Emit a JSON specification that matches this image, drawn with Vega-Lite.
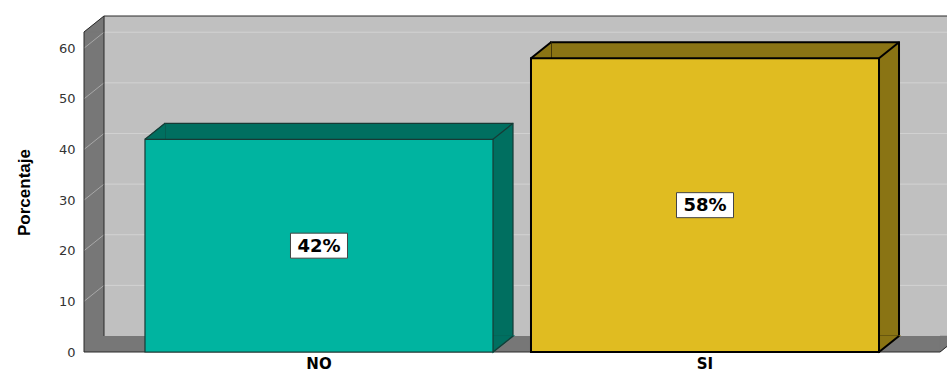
{
  "$schema": "https://vega.github.io/schema/vega-lite/v6.json",
  "width": 856,
  "height": 320,
  "autosize": {"type": "none"},
  "padding": {"left": 84, "top": 32, "right": 7, "bottom": 22},
  "background": "white",
  "config": {
    "view": {"stroke": null},
    "axisY": {"domain": false, "ticks": false, "grid": false, "labelFont": "DejaVu Sans", "labelFontSize": 13, "labelColor": "#333333", "labelPadding": 9, "titleFont": "Liberation Sans", "titleFontWeight": "bold", "titleFontSize": 17, "titleColor": "#000000"},
    "axisX": {"domain": false, "ticks": false, "grid": false, "labelFont": "DejaVu Sans", "labelFontWeight": "bold", "labelFontSize": 15, "labelColor": "#000000", "labelPadding": 4, "labelAngle": 0}
  },
  "datasets": {
    "bars": [
      {"cat": "NO", "v": 42, "label": "42%"},
      {"cat": "SI", "v": 58, "label": "58%"}
    ],
    "ticks": [{"t": 10}, {"t": 20}, {"t": 30}, {"t": 40}, {"t": 50}, {"t": 60}],
    "frame": [{"k": 1}]
  },
  "layer": [
    {
      "data": {"name": "bars"},
      "mark": {"type": "bar", "opacity": 0},
      "encoding": {
        "x": {"field": "cat", "type": "nominal", "title": null, "scale": {"type": "band", "paddingInner": 0.0984, "paddingOuter": 0.158}},
        "y": {"field": "v", "type": "quantitative", "title": "Porcentaje", "scale": {"domain": [0, 63.2], "nice": false, "zero": false}, "axis": {"values": [0, 10, 20, 30, 40, 50, 60], "titleX": -51, "titleY": 160}}
      }
    },
    {
      "data": {"name": "frame"},
      "mark": {"type": "rect", "fill": "#c0c0c0", "xOffset": 20, "x2Offset": 20, "yOffset": -16, "y2Offset": -16},
      "encoding": {"x": {"value": 0}, "x2": {"value": "width"}, "y": {"datum": 63.2, "type": "quantitative", "title": "Porcentaje"}, "y2": {"datum": 0}}
    },
    {
      "data": {"name": "ticks"},
      "mark": {"type": "rule", "color": "#d2d2d2", "strokeWidth": 1, "xOffset": 20, "x2Offset": 20, "yOffset": -16},
      "encoding": {"x": {"value": 0}, "x2": {"value": "width"}, "y": {"field": "t", "type": "quantitative", "title": "Porcentaje"}}
    },
    {
      "data": {"name": "frame"},
      "mark": {"type": "rect", "fill": "#777777", "x2Offset": 20},
      "encoding": {"x": {"value": 0}, "x2": {"value": 0}, "y": {"datum": 63.2, "type": "quantitative", "title": "Porcentaje"}, "y2": {"datum": 0}}
    },
    {
      "data": {"name": "frame"},
      "mark": {"type": "point", "shape": "M0,0L1,-0.8L1,0Z", "size": 1600, "filled": true, "fill": "#777777", "stroke": "#777777", "strokeWidth": 0.5, "opacity": 1},
      "encoding": {"x": {"value": 0}, "y": {"datum": 63.2, "type": "quantitative", "title": "Porcentaje"}}
    },
    {
      "data": {"name": "frame"},
      "mark": {"type": "rect", "fill": "#777777", "yOffset": -16},
      "encoding": {"x": {"value": 0}, "x2": {"value": "width"}, "y": {"datum": 0, "type": "quantitative", "title": "Porcentaje"}, "y2": {"datum": 0}}
    },
    {
      "data": {"name": "frame"},
      "mark": {"type": "point", "shape": "M0,0L1,-0.8L0,-0.8Z", "size": 1600, "filled": true, "fill": "#777777", "stroke": "#777777", "strokeWidth": 0.5, "opacity": 1},
      "encoding": {"x": {"value": "width"}, "y": {"datum": 0, "type": "quantitative", "title": "Porcentaje"}}
    },
    {
      "data": {"name": "ticks"},
      "mark": {"type": "point", "shape": "M0,0L1,-0.8", "size": 1600, "filled": false, "stroke": "#a8a8a8", "strokeWidth": 1, "opacity": 1},
      "encoding": {"x": {"value": 0}, "y": {"field": "t", "type": "quantitative", "title": "Porcentaje"}}
    },
    {
      "data": {"name": "frame"},
      "mark": {"type": "rule", "color": "#2a2a2a", "strokeWidth": 1},
      "encoding": {"x": {"value": 0}, "y": {"datum": 0, "type": "quantitative", "title": "Porcentaje"}, "y2": {"datum": 63.2}}
    },
    {
      "data": {"name": "frame"},
      "mark": {"type": "point", "shape": "M0,0L1,-0.8", "size": 1600, "filled": false, "stroke": "#2a2a2a", "strokeWidth": 1, "opacity": 1},
      "encoding": {"x": {"value": 0}, "y": {"datum": 63.2, "type": "quantitative", "title": "Porcentaje"}}
    },
    {
      "data": {"name": "frame"},
      "mark": {"type": "rule", "color": "#2a2a2a", "strokeWidth": 1, "xOffset": 20, "x2Offset": 20, "yOffset": -16},
      "encoding": {"x": {"value": 0}, "x2": {"value": "width"}, "y": {"datum": 63.2, "type": "quantitative", "title": "Porcentaje"}}
    },
    {
      "data": {"name": "frame"},
      "mark": {"type": "rule", "color": "#2a2a2a", "strokeWidth": 1, "xOffset": 20, "yOffset": -16, "y2Offset": -16},
      "encoding": {"x": {"value": 0}, "y": {"datum": 0, "type": "quantitative", "title": "Porcentaje"}, "y2": {"datum": 63.2}}
    },
    {
      "data": {"name": "frame"},
      "mark": {"type": "rule", "color": "#2a2a2a", "strokeWidth": 1},
      "encoding": {"x": {"value": 0}, "x2": {"value": "width"}, "y": {"datum": 0, "type": "quantitative", "title": "Porcentaje"}}
    },
    {
      "data": {"name": "frame"},
      "mark": {"type": "point", "shape": "M0,0L1,-0.8", "size": 1600, "filled": false, "stroke": "#2a2a2a", "strokeWidth": 1, "opacity": 1},
      "encoding": {"x": {"value": "width"}, "y": {"datum": 0, "type": "quantitative", "title": "Porcentaje"}}
    },
    {
      "data": {"name": "bars"},
      "mark": {"type": "bar", "xOffset": 20, "yOffset": -16, "y2Offset": -16},
      "encoding": {
        "x": {"field": "cat", "type": "nominal", "title": null, "scale": {"type": "band", "paddingInner": 0.0984, "paddingOuter": 0.158}},
        "y": {"field": "v", "type": "quantitative", "title": "Porcentaje"},
        "y2": {"datum": 0},
        "fill": {"condition": {"test": "datum.cat == 'NO'", "value": "#006f60"}, "value": "#8a7414"},
        "stroke": {"condition": {"test": "datum.cat == 'NO'", "value": "#173a35"}, "value": "#000000"},
        "strokeWidth": {"condition": {"test": "datum.cat == 'NO'", "value": 1.2}, "value": 2}
      }
    },
    {
      "data": {"name": "bars"},
      "mark": {"type": "point", "shape": "M0,0L1,-0.8L1,0Z", "size": 1600, "filled": true, "opacity": 1, "strokeWidth": 1},
      "encoding": {
        "x": {"field": "cat", "type": "nominal", "bandPosition": 0, "title": null, "scale": {"type": "band", "paddingInner": 0.0984, "paddingOuter": 0.158}},
        "y": {"field": "v", "type": "quantitative", "title": "Porcentaje"},
        "fill": {"condition": {"test": "datum.cat == 'NO'", "value": "#006f60"}, "value": "#8a7414"},
        "stroke": {"condition": {"test": "datum.cat == 'NO'", "value": "#006f60"}, "value": "#8a7414"}
      }
    },
    {
      "data": {"name": "bars"},
      "mark": {"type": "point", "shape": "M0,0L1,-0.8L0,-0.8Z", "size": 1600, "filled": true, "opacity": 1, "strokeWidth": 1.5},
      "encoding": {
        "x": {"field": "cat", "type": "nominal", "bandPosition": 1, "title": null, "scale": {"type": "band", "paddingInner": 0.0984, "paddingOuter": 0.158}},
        "y": {"datum": 0, "type": "quantitative", "title": "Porcentaje"},
        "fill": {"condition": {"test": "datum.cat == 'NO'", "value": "#006f60"}, "value": "#8a7414"},
        "stroke": {"condition": {"test": "datum.cat == 'NO'", "value": "#006f60"}, "value": "#8a7414"}
      }
    },
    {
      "data": {"name": "bars"},
      "mark": {"type": "bar"},
      "encoding": {
        "x": {"field": "cat", "type": "nominal", "title": null, "scale": {"type": "band", "paddingInner": 0.0984, "paddingOuter": 0.158}},
        "y": {"field": "v", "type": "quantitative", "title": "Porcentaje"},
        "y2": {"datum": 0},
        "fill": {"condition": {"test": "datum.cat == 'NO'", "value": "#00b4a0"}, "value": "#e0bc21"},
        "stroke": {"condition": {"test": "datum.cat == 'NO'", "value": "#173a35"}, "value": "#000000"},
        "strokeWidth": {"condition": {"test": "datum.cat == 'NO'", "value": 1.2}, "value": 2}
      }
    },
    {
      "data": {"name": "bars"},
      "mark": {"type": "point", "shape": "M0,0L1,-0.8", "size": 1600, "filled": false, "opacity": 1},
      "encoding": {
        "x": {"field": "cat", "type": "nominal", "bandPosition": 0, "title": null, "scale": {"type": "band", "paddingInner": 0.0984, "paddingOuter": 0.158}},
        "y": {"field": "v", "type": "quantitative", "title": "Porcentaje"},
        "stroke": {"condition": {"test": "datum.cat == 'NO'", "value": "#173a35"}, "value": "#000000"},
        "strokeWidth": {"condition": {"test": "datum.cat == 'NO'", "value": 1.2}, "value": 2}
      }
    },
    {
      "data": {"name": "bars"},
      "mark": {"type": "point", "shape": "M0,0L1,-0.8", "size": 1600, "filled": false, "opacity": 1},
      "encoding": {
        "x": {"field": "cat", "type": "nominal", "bandPosition": 1, "title": null, "scale": {"type": "band", "paddingInner": 0.0984, "paddingOuter": 0.158}},
        "y": {"field": "v", "type": "quantitative", "title": "Porcentaje"},
        "stroke": {"condition": {"test": "datum.cat == 'NO'", "value": "#173a35"}, "value": "#000000"},
        "strokeWidth": {"condition": {"test": "datum.cat == 'NO'", "value": 1.2}, "value": 2}
      }
    },
    {
      "data": {"name": "bars"},
      "mark": {"type": "point", "shape": "M0,0L1,-0.8", "size": 1600, "filled": false, "opacity": 1},
      "encoding": {
        "x": {"field": "cat", "type": "nominal", "bandPosition": 1, "title": null, "scale": {"type": "band", "paddingInner": 0.0984, "paddingOuter": 0.158}},
        "y": {"datum": 0, "type": "quantitative", "title": "Porcentaje"},
        "stroke": {"condition": {"test": "datum.cat == 'NO'", "value": "#173a35"}, "value": "#000000"},
        "strokeWidth": {"condition": {"test": "datum.cat == 'NO'", "value": 1.2}, "value": 2}
      }
    },
    {
      "data": {"name": "bars"},
      "mark": {"type": "point", "shape": "M-1.425,-0.625L1.425,-0.625L1.425,0.625L-1.425,0.625Z", "size": 1600, "filled": true, "fill": "#ffffff", "stroke": "#444444", "strokeWidth": 1, "opacity": 1, "yOffset": {"expr": "(height - scale('y', datum.v)) / 2"}},
      "encoding": {
        "x": {"field": "cat", "type": "nominal", "title": null, "scale": {"type": "band", "paddingInner": 0.0984, "paddingOuter": 0.158}},
        "y": {"field": "v", "type": "quantitative", "title": "Porcentaje"}
      }
    },
    {
      "data": {"name": "bars"},
      "mark": {"type": "text", "font": "DejaVu Sans", "fontWeight": "bold", "fontSize": 18, "color": "#000000", "align": "center", "baseline": "middle", "dy": 1, "yOffset": {"expr": "(height - scale('y', datum.v)) / 2"}},
      "encoding": {
        "x": {"field": "cat", "type": "nominal", "title": null, "scale": {"type": "band", "paddingInner": 0.0984, "paddingOuter": 0.158}},
        "y": {"field": "v", "type": "quantitative", "title": "Porcentaje"},
        "text": {"field": "label"}
      }
    }
  ]
}
